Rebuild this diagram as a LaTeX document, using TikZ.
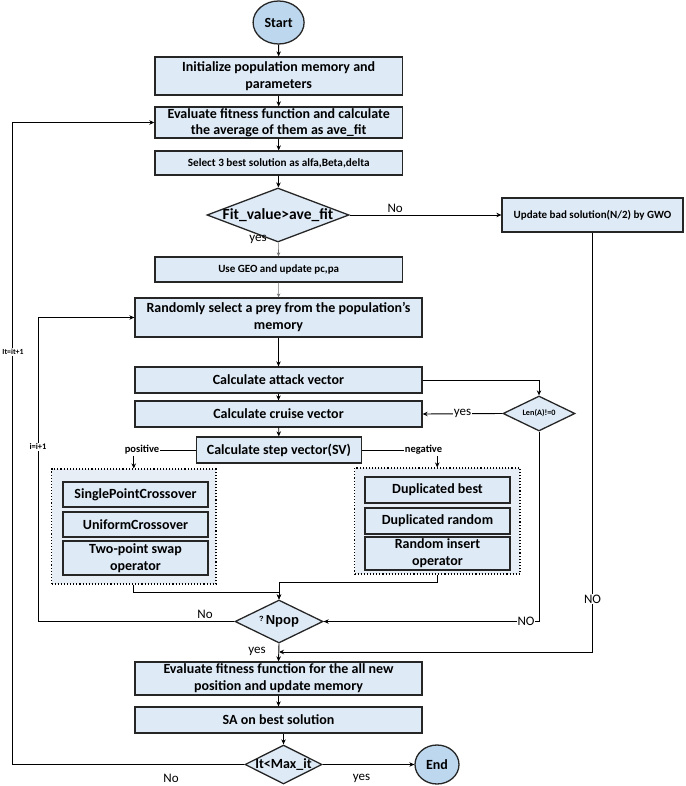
\documentclass[tikz,border=0pt]{standalone}
\usepackage{fontspec}
\setmainfont{Carlito}
\newfontfamily\arialf{Liberation Sans}
\usetikzlibrary{shapes.geometric,arrows.meta,calc}
\definecolor{boxblue}{HTML}{DEEAF6}
\definecolor{circblue}{HTML}{BDD7EE}
\definecolor{dotfill}{HTML}{E8EEF6}
\definecolor{bord}{HTML}{262626}
\begin{document}
\begin{tikzpicture}[x=1pt,y=-1pt,
  box/.style={draw=bord,line width=1.3pt,fill=boxblue,inner sep=0pt,align=center},
  dia/.style={diamond,draw=bord,line width=1.3pt,fill=boxblue,inner sep=0pt},
  term/.style={ellipse,draw=bord,line width=1.3pt,fill=circblue,inner sep=0pt,
     font=\bfseries\fontsize{14}{16}\selectfont},
  dotbox/.style={draw=black,dotted,line width=1.1pt,fill=dotfill,inner sep=0pt},
  ftw/.style={font=\bfseries\fontsize{14}{17}\selectfont},
  lab/.style={font=\fontsize{13}{15}\selectfont,inner sep=1pt},
  blab/.style={font=\bfseries\fontsize{10.5}{12}\selectfont,inner sep=1pt},
  conn/.style={line width=0.9pt,black},
  arr/.style={conn,-{Stealth[length=5pt,width=4.5pt]}},
  garr/.style={line width=0.6pt,black!55,-{Stealth[length=4pt,width=3.5pt]}}]
\useasboundingbox (0,0) rectangle (685,786);

\coordinate (outerx) at (12,0);
\coordinate (innerx) at (38,0);
\coordinate (joinpt) at (279,652);

\node[term,minimum width=51pt,minimum height=43pt] (start) at (278.6,22.5) {Start};
\node[box,ftw,minimum width=247.5pt,minimum height=38pt] (init) at (278.7,76) {Initialize population memory and\\parameters};
\node[box,font=\bfseries\fontsize{14}{16}\selectfont,minimum width=247.5pt,minimum height=31pt] (eval) at (278.7,122.5) {Evaluate fitness function and calculate\\the average of them as ave\_fit};
\node[box,font=\bfseries\fontsize{11.2}{13}\selectfont,minimum width=247.5pt,minimum height=24pt] (select) at (278.7,163) {Select 3 best solution as alfa,Beta,delta};
\node[dia,minimum width=142pt,minimum height=54pt,
  label={[font=\bfseries\fontsize{15.5}{17}\selectfont]center:Fit\_value>ave\_fit}] (fit) at (278,215) {};
\node[box,font=\bfseries\fontsize{11}{13}\selectfont,minimum width=181pt,minimum height=34pt] (update) at (592.5,215) {Update bad solution(N/2) by GWO};
\node[box,font=\bfseries\fontsize{11}{13}\selectfont,minimum width=247.5pt,minimum height=25pt] (geo) at (278.7,269.5) {Use GEO and update pc,pa};
\node[box,ftw,minimum width=287pt,minimum height=39pt] (rand) at (278.5,317.5) {Randomly select a prey from the population’s\\memory};
\node[box,ftw,minimum width=287pt,minimum height=26pt] (attack) at (278.5,380) {Calculate attack vector};
\node[box,ftw,minimum width=287pt,minimum height=26pt] (cruise) at (278.5,414) {Calculate cruise vector};
\node[box,ftw,minimum width=165pt,minimum height=26pt] (step) at (279,450) {Calculate step vector(SV)};
\node[dia,minimum width=72pt,minimum height=35pt,
  label={[font=\bfseries\fontsize{8.2}{9}\selectfont]center:Len(A)!=0}] (len) at (539,413.5) {};

\node[dotbox,minimum width=164.5pt,minimum height=115pt] (lbox) at (133.75,526.5) {};
\node[box,ftw,minimum width=145pt,minimum height=25pt] (sp) at (135.5,494.5) {SinglePointCrossover};
\node[box,ftw,minimum width=145pt,minimum height=25pt] (uni) at (135.5,524.5) {UniformCrossover};
\node[box,ftw,minimum width=145pt,minimum height=34pt] (two) at (135.5,558) {Two-point swap\\operator};

\node[dotbox,minimum width=165.5pt,minimum height=106pt] (rbox) at (437.25,521) {};
\node[box,ftw,minimum width=145pt,minimum height=26pt] (db) at (437.5,490) {Duplicated best};
\node[box,ftw,minimum width=145pt,minimum height=26pt] (dr) at (437.5,521) {Duplicated random};
\node[box,ftw,minimum width=145pt,minimum height=33pt] (ri) at (437.5,553.5) {Random insert\\operator};

\node[dia,minimum width=88pt,minimum height=43pt,
  label={[font=\arialf\bfseries\fontsize{13}{15}\selectfont]center:{\raisebox{3.5pt}{\fontsize{7.5}{8}\selectfont ?}\,Npop}}] (npop) at (279,621.5) {};
\node[box,ftw,minimum width=287pt,minimum height=33pt] (evalfit) at (278.5,678.5) {Evaluate fitness function for the all new\\position and update memory};
\node[box,ftw,minimum width=287pt,minimum height=26pt] (sa) at (278.5,720) {SA on best solution};
\node[dia,minimum width=77pt,minimum height=39pt,
  label={[font=\bfseries\fontsize{14}{16}\selectfont]center:It<Max\_it}] (it) at (283.5,764.5) {};
\node[term,minimum width=44pt,minimum height=39pt] (end) at (437,764.5) {End};

% labels
\node[blab] (pos) at (142,450) {positive};
\node[blab] (neg) at (423.5,450) {negative};

% main flow
\draw[arr] (start) -- (init);
\draw[arr] (init) -- (eval);
\draw[arr] (eval) -- (select);
\draw[arr] (select) -- (fit);
\draw[arr] (fit) -- (update) node[lab,pos=0.3,above=1pt] {No};
\draw[garr] (fit) -- (geo);
\node[lab] at (258,239) {yes};
\draw[garr] (geo) -- (rand);
\draw[arr] (rand) -- (attack);
\draw[arr] (attack) -- (cruise);
\draw[arr] (cruise) -- (step);
\draw[arr] (attack.east) -| (len.north);
\draw[arr] (len.west) -- (cruise.east) node[lab,midway,fill=white,inner sep=0.5pt] {yes};
\draw[conn] (step.west) -- (pos.east);
\draw[conn] (step.east) -- (neg.west);
\draw[arr] (pos.south -| lbox.north) -- (lbox.north);
\draw[arr] (neg.south -| rbox.north) -- (rbox.north);
\draw[arr] (lbox.south) |- ($(npop.north)+(0,-7)$) -- (npop.north);
\draw[arr] (rbox.south) |- ($(npop.north)+(0,-17)$) -- (npop.north);
\draw[arr] (npop.west) -- (npop.west -| innerx) |- (rand.west);
\node[lab] at (205,614) {No};
\node[blab,fill=white,font=\bfseries\fontsize{8.5}{10}\selectfont] at (38,447) {i=i+1};
\draw[arr] (len.south) |- (npop.east);
\node[lab,fill=white,inner sep=0.5pt] at (526,621.5) {NO};
\draw[arr] (update.south) |- (joinpt);
\node[lab,fill=white,inner sep=0.5pt] at (592.5,599) {NO};
\draw[arr] (npop.south) -- (evalfit.north);
\node[lab] at (257,651) {yes};
\draw[arr] (evalfit) -- (sa);
\draw[arr] (sa.south -| it.north) -- (it.north);
\draw[arr] (it.east) -- (end.west);
\node[lab] at (361.5,778) {yes};
\draw[arr] (it.west) -- (it.west -| outerx) |- (eval.west);
\node[lab] at (171,778) {No};
\node[blab,fill=white,font=\bfseries\fontsize{7.8}{9}\selectfont] at (13,352) {It=it+1};
\end{tikzpicture}
\end{document}
